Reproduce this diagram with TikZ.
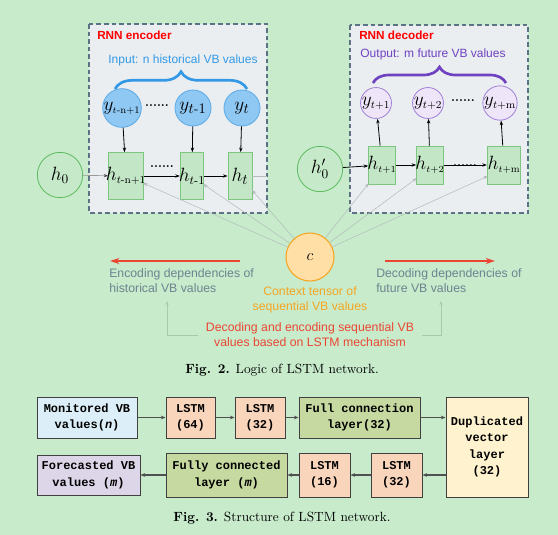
\documentclass[tikz,border=0pt]{standalone}
\usepackage{amsmath}
\usepackage{fontspec}
\setmonofont{Liberation Mono}
\newfontfamily\sanf{Liberation Sans}
\usetikzlibrary{arrows.meta,decorations.pathreplacing,calc}
\definecolor{bgc}{HTML}{C7EBCB}
\definecolor{boxfillc}{HTML}{EAEEF1}
\definecolor{dashc}{HTML}{5B7384}
\definecolor{yfill}{HTML}{8FC8F3}
\definecolor{ydraw}{HTML}{5AAAE8}
\definecolor{pfill}{HTML}{EEE6F8}
\definecolor{pdraw}{HTML}{A080D8}
\definecolor{hfill}{HTML}{C3E6C6}
\definecolor{hdraw}{HTML}{7CC67F}
\definecolor{hzfill}{HTML}{C6E9C9}
\definecolor{hzdraw}{HTML}{5DBB60}
\definecolor{cfill}{HTML}{FFDFA6}
\definecolor{cdraw}{HTML}{F5A623}
\definecolor{bluet}{HTML}{3399E6}
\definecolor{purplet}{HTML}{6F42C1}
\definecolor{redt}{HTML}{EB4634}
\definecolor{grayt}{HTML}{6E8391}
\definecolor{legc}{HTML}{A9C9AE}
\definecolor{thinc}{HTML}{B3BDBB}
\definecolor{monof}{HTML}{DCEEF7}
\definecolor{lstmf}{HTML}{F9D5BC}
\definecolor{fullf}{HTML}{C5D9A0}
\definecolor{dupf}{HTML}{FFF3CF}
\definecolor{forf}{HTML}{DDD5E8}
\definecolor{edgec}{HTML}{404040}
\definecolor{arrc}{HTML}{505050}
\tikzset{
  rnnbox/.style={draw=dashc, fill=boxfillc, line width=2pt, dash pattern=on 3.5pt off 2.2pt},
  ycirc/.style={circle, draw=ydraw, fill=yfill, line width=0.6pt, minimum size=27pt, inner sep=0pt},
  pcirc/.style={circle, draw=pdraw, fill=pfill, line width=0.6pt, minimum size=23pt, inner sep=0pt},
  hbox/.style={rectangle, draw=hdraw, fill=hfill, line width=0.6pt, inner sep=0pt},
  hzero/.style={circle, draw=hzdraw, fill=hzfill, line width=0.6pt, minimum size=34pt, inner sep=0pt},
  ccirc/.style={circle, draw=cdraw, fill=cfill, line width=0.8pt, minimum size=36pt, inner sep=0pt},
  blk/.style={-{Stealth[length=3.5pt,width=2.5pt]}, line width=0.6pt, black},
  gry/.style={-{Stealth[length=3.5pt,width=2.5pt]}, line width=0.4pt, thinc},
  redarr/.style={-{Stealth[length=7pt,width=4.5pt]}, line width=1.8pt, redt},
  legarr/.style={-{Stealth[length=3pt,width=2.5pt,open]}, line width=0.5pt, legc},
  sans/.style={font=\sanf\fontsize{9}{11}\selectfont, inner sep=0pt},
  dots/.style={font=\bfseries\fontsize{9}{9}\selectfont, inner sep=0pt},
  fs/.style={font=\fontsize{#1}{#1}\selectfont, inner sep=0pt},
  fbox/.style={draw=edgec, line width=0.75pt, align=center, inner sep=0pt,
    font=\ttfamily\bfseries\fontsize{9}{12.3}\selectfont},
  farr/.style={-{Stealth[length=3.5pt,width=2.8pt]}, line width=0.8pt, arrc},
}
\newcommand{\sbs}[2]{\text{\fontsize{#1}{#1}\selectfont$#2$}}
\begin{document}
\begin{tikzpicture}[x=0.75pt,y=-0.75pt]
\fill[bgc] (0,0) rectangle (558,535);
\useasboundingbox (0,0) rectangle (558,535);

% ---------- encoder ----------
\draw[rnnbox] (89,24) rectangle (267,213);
\node[sans, anchor=west, text=red, font=\sanf\bfseries\fontsize{8.8}{10}\selectfont] (enct) at (97,35) {RNN encoder};
\node[sans, text=bluet] (inpt) at (183,60) {Input: n historical VB values};

\node[ycirc, fs=14] (y1) at (122,108) {$y_{\sbs{7.5}{t\text{-n+1}}}$};
\node[ycirc, fs=15] (y2) at (193,108) {$y_{t\text{-}1}$};
\node[ycirc, fs=15] (y3) at (242,108) {$y_{t}$};
\node[dots] (d1) at (157,106) {......};
\draw[decorate, decoration={brace, amplitude=13pt}, line width=2pt, bluet] (115,89) -- (247,89);

\node[hbox, minimum width=26pt, minimum height=35pt] (h1) at (126,176) {};
\node[hbox, minimum width=17.5pt, minimum height=35pt] (h2) at (192,176) {};
\node[hbox, minimum width=18pt, minimum height=35pt] (h3) at (240,176) {};
\node[fs=15] (h1t) at (h1) {$h_{\sbs{8}{t\text{-n+1}}}$};
\node[fs=15] (h2t) at (h2) {$h_{\sbs{9}{t\text{-}1}}$};
\node[fs=15] (h3t) at (h3) {$h_{t}$};
\node[dots] (d2) at (162,167) {......};

\node[hzero, fs=14] (h0) at (60,175) {$h_0$};

\draw[blk] (y1) -- (h1);
\draw[blk] (y2) -- (h2);
\draw[blk] (y3) -- (h3);
\draw[line width=0.5pt, draw=gray!80, -{Stealth[length=3.5pt,width=2.5pt,black!70]}] (h0) -- (h1);
\draw[blk] (h1) -- (h2);
\draw[blk] (h2) -- (h3);
\coordinate (encend) at (267,176);
\draw[line width=0.4pt, thinc] (h3.east) -- (encend);

% ---------- decoder ----------
\draw[rnnbox] (350,25) rectangle (528,213);
\node[sans, anchor=west, text=red, font=\sanf\bfseries\fontsize{8.8}{10}\selectfont] (dect) at (359,35) {RNN decoder};
\node[sans, text=purplet] (outt) at (433,54) {Output: m future VB values};

\node[pcirc, fs=15] (p1) at (376,103) {$y_{\sbs{8}{t{+}1}}$};
\node[pcirc, fs=15] (p2) at (428,103) {$y_{\sbs{8}{t{+}2}}$};
\node[pcirc, fs=15] (p3) at (500,103) {$y_{\sbs{8}{t\text{+m}}}$};
\node[dots] (d3) at (463,101) {......};
\draw[decorate, decoration={brace, amplitude=12pt}, line width=2pt, purplet] (373,83) -- (506,83);

\node[hbox, minimum width=20pt, minimum height=28.5pt] (g1) at (382,165) {};
\node[hbox, minimum width=20pt, minimum height=28.5pt] (g2) at (430,165) {};
\node[hbox, minimum width=25pt, minimum height=28.5pt] (g3) at (504,165) {};
\node[fs=14] (g1t) at (g1) {$h_{\sbs{7.5}{t{+}1}}$};
\node[fs=14] (g2t) at (g2) {$h_{\sbs{7.5}{t{+}2}}$};
\node[fs=14] (g3t) at (g3) {$h_{\sbs{7.5}{t\text{+m}}}$};
\node[dots] (d4) at (465,166) {......};

\node[hzero, fs=14] (hp) at (320,169) {$h'_0$};

\draw[blk] (g1) -- (p1);
\draw[blk] (g2) -- (p2);
\draw[blk] (g3) -- (p3);
\draw[blk] (hp) -- (g1);
\draw[blk] (g1) -- (g2);
\draw[blk] (g2) -- (g3);

% ---------- context ----------
\node[ccirc, fs=13] (c) at (310,257) {$c$};
\coordinate (e1) at (143,183);
\coordinate (e2) at (203,184);
\coordinate (e3) at (252,190);
\coordinate (f1) at (369,183);
\coordinate (f2) at (417,178);
\coordinate (f3) at (488,176);
\foreach \t in {e1,e2,e3,f1,f2,f3} \draw[gry] (c) -- (\t);

\coordinate (ra) at (240,261);
\coordinate (rb) at (110,261);
\coordinate (rc) at (385,261);
\coordinate (rd) at (495,261);
\draw[redarr] (ra) -- (rb);
\draw[redarr] (rc) -- (rd);

\node[sans, text=grayt, anchor=north west, align=left, font=\sanf\fontsize{9.2}{11.5}\selectfont] (encd) at (109,268) {Encoding dependencies of\\historical VB values};
\node[sans, text=grayt, anchor=north west, align=left, font=\sanf\fontsize{9.2}{11.5}\selectfont] (decd) at (376,268) {Decoding dependencies of\\future VB values};
\node[sans, text=cdraw, align=center, font=\sanf\fontsize{9.2}{11.5}\selectfont] (ctx) at (310,300) {Context tensor of\\sequential VB values};
\node[sans, text=redt, align=center, font=\sanf\fontsize{9.2}{11.5}\selectfont] (mech) at (310,334.5) {Decoding and encoding sequential VB\\values based on LSTM mechanism};
\coordinate (la) at (198,335);
\coordinate (lb) at (167,301);
\coordinate (lc) at (422,335);
\coordinate (ld) at (441,301);
\draw[legarr] (la) -| (lb);
\draw[legarr] (lc) -| (ld);

\node[inner sep=0pt, font=\fontsize{10}{12}\selectfont] (cap2) at (282,370) {\textbf{Fig. 2.} Logic of LSTM network.};

% ---------- figure 3 ----------
\node[fbox, fill=monof, minimum width=75pt, minimum height=30.75pt] (m1) at (87,417.5) {Monitored VB\\values(\textit{n})};
\node[fbox, fill=lstmf, minimum width=36.75pt, minimum height=30.75pt] (m2) at (190.5,417.5) {LSTM\\(64)};
\node[fbox, fill=lstmf, minimum width=37.5pt, minimum height=30.75pt] (m3) at (260,417.5) {LSTM\\(32)};
\node[fbox, fill=fullf, minimum width=90.75pt, minimum height=30.75pt] (m4) at (359.5,417.5) {Full connection\\layer(32)};
\node[fbox, fill=dupf, minimum width=61.5pt, minimum height=75pt] (m5) at (487,447) {Duplicated\\vector\\layer\\(32)};
\node[fbox, fill=lstmf, minimum width=38.25pt, minimum height=33pt] (m6) at (396.5,475) {LSTM\\(32)};
\node[fbox, fill=lstmf, minimum width=38.25pt, minimum height=33pt] (m7) at (324.5,475) {LSTM\\(16)};
\node[fbox, fill=fullf, minimum width=90.75pt, minimum height=33pt] (m8) at (226.5,475) {Fully connected\\layer (\textit{m})};
\node[fbox, fill=forf, minimum width=77.25pt, minimum height=30pt] (m9) at (88.5,475) {Forecasted VB\\values (\textit{m})};

\draw[farr] (m1) -- (m2);
\draw[farr] (m2) -- (m3);
\draw[farr] (m3) -- (m4);
\draw[farr] (m4) -- (m4 -| m5.west);
\draw[farr] (m6 -| m5.west) -- (m6);
\draw[farr] (m6) -- (m7);
\draw[farr] (m7) -- (m8);
\draw[farr] (m8) -- (m9);

\node[inner sep=0pt, font=\fontsize{10}{12}\selectfont] (cap3) at (282,518) {\textbf{Fig. 3.} Structure of LSTM network.};
\end{tikzpicture}
\end{document}
